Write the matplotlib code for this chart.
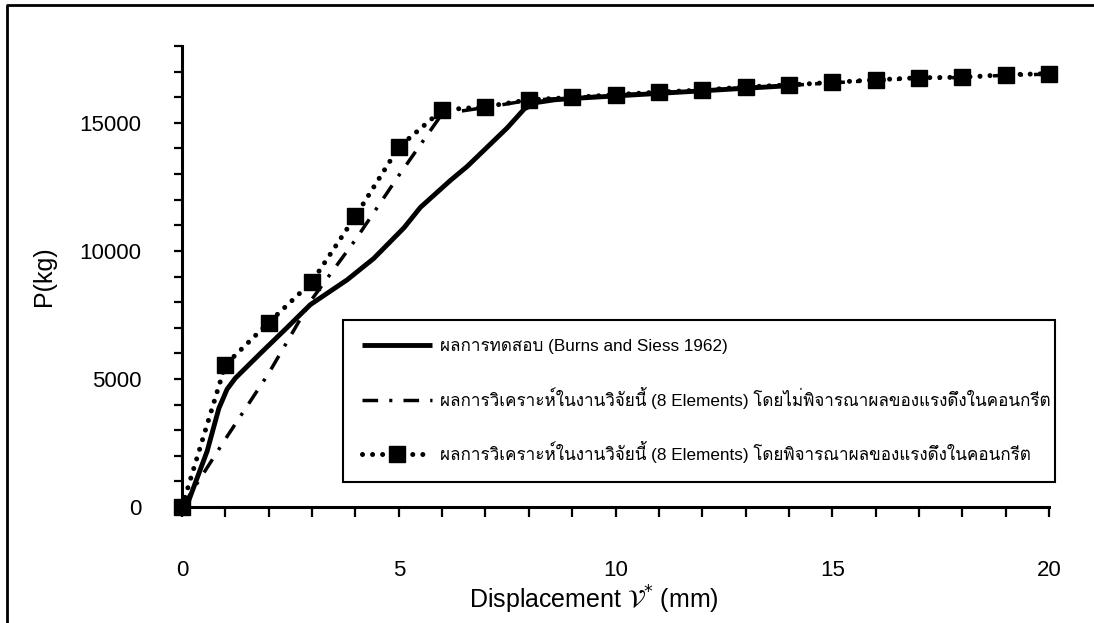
import matplotlib
matplotlib.use("Agg")
import matplotlib.pyplot as plt
from matplotlib import font_manager
from matplotlib.ft2font import FT2Font
from matplotlib.lines import Line2D
from matplotlib.ticker import MultipleLocator

# test curve (Burns and Siess 1962)
x_test = [0.1, 0.58, 0.85, 1.04, 1.23, 1.81, 2.42, 2.96, 3.81, 4.42, 5.12, 5.5,
          6.19, 6.58, 7.04, 7.5, 7.9, 8.2, 8.6, 9.0, 10, 11, 12, 13, 14]
p_test = [0, 2180, 3850, 4600, 5030, 6000, 7000, 7900, 8870, 9700, 10900, 11700,
          12750, 13300, 14050, 14800, 15550, 15800, 15900, 15950, 16050, 16150,
          16250, 16350, 16450]

# analysis without concrete tension
x_fe = list(range(0, 21))
p_fe = [0, 2650, 5220, 8120, 10430, 12940, 15350, 15600, 15880, 15980, 16080,
        16180, 16260, 16380, 16460, 16560, 16660, 16740, 16770, 16860, 16900]

# analysis with concrete tension
x_sq = list(range(0, 21))
p_sq = [0, 5550, 7200, 8800, 11350, 14050, 15500, 15630, 15900, 15990, 16100,
        16200, 16280, 16400, 16480, 16580, 16680, 16760, 16780, 16880, 16920]

labels = ["ผลการทดสอบ (Burns and Siess 1962)",
          "ผลการวิเคราะห์ในงานวิจัยนี้ (8 Elements) โดยไม่พิจารณาผลของแรงดึงในคอนกรีต",
          "ผลการวิเคราะห์ในงานวิจัยนี้ (8 Elements) โดยพิจารณาผลของแรงดึงในคอนกรีต"]


def thai_family():
    # first installed font that has Thai glyphs
    for f in font_manager.fontManager.ttflist:
        try:
            if 0x0E1C in FT2Font(f.fname).get_charmap():
                return f.name
        except Exception:
            pass
    return "DejaVu Sans"


plt.rcParams['font.family'] = ['Liberation Sans', thai_family(), 'DejaVu Sans']
plt.rcParams['mathtext.fontset'] = 'dejavusans'

fig = plt.figure(figsize=(10.94, 6.23), dpi=100)
ax = fig.add_axes([182 / 1094, 1 - 507 / 623, 867 / 1094, 461 / 623])

ax.plot(x_test, p_test, color='black', lw=3.5, solid_capstyle='butt',
        label=labels[0])
ax.plot(x_fe, p_fe, color='black', lw=2.5, dashes=(4.5, 3.2, 0.9, 3.2),
        label=labels[1])
ax.plot(x_sq, p_sq, color='black', lw=3.6, linestyle=(0, (0.01, 2)),
        dash_capstyle='round', marker='s', markersize=12, clip_on=False,
        label=labels[2])

ax.set_xlim(0, 20)
ax.set_ylim(0, 18000)
ax.xaxis.set_major_locator(MultipleLocator(5))
ax.xaxis.set_minor_locator(MultipleLocator(1))
ax.yaxis.set_major_locator(MultipleLocator(5000))
ax.yaxis.set_minor_locator(MultipleLocator(1000))

for s in ['top', 'right']:
    ax.spines[s].set_visible(False)
for s in ['left', 'bottom']:
    ax.spines[s].set_linewidth(2.2)

ax.tick_params(axis='both', which='both', direction='out', width=1.6,
               labelsize=16, colors='black')
ax.tick_params(axis='x', which='both', length=7, pad=31)
ax.tick_params(axis='y', which='both', length=6, pad=23)

ax.set_xlabel("Displacement $\\mathcal{V}^{*}$ (mm)", fontsize=18, va='center')
ax.xaxis.set_label_coords((594 - 182) / 867, (507 - 600) / 461)
ax.set_ylabel("P(kg)", fontsize=18, labelpad=17)

leg = ax.legend(loc='lower left', mode='expand',
                bbox_to_anchor=(161 / 867, 25 / 461, 873 / 867 - 161 / 867, 0.4),
                fontsize=12.3, frameon=True, fancybox=False, framealpha=1,
                edgecolor='black', handlelength=4.1, handletextpad=0.47,
                labelspacing=1.9, borderpad=1.1, borderaxespad=0)
leg.get_frame().set_linewidth(1.5)

# outer frame (left and top edges)
fx = 7 / 1094
fy = 1 - 5 / 623
fig.add_artist(Line2D([fx, fx, 1], [0, fy, fy], transform=fig.transFigure,
                      color='black', lw=2))

fig.savefig("out.png", dpi=100)
